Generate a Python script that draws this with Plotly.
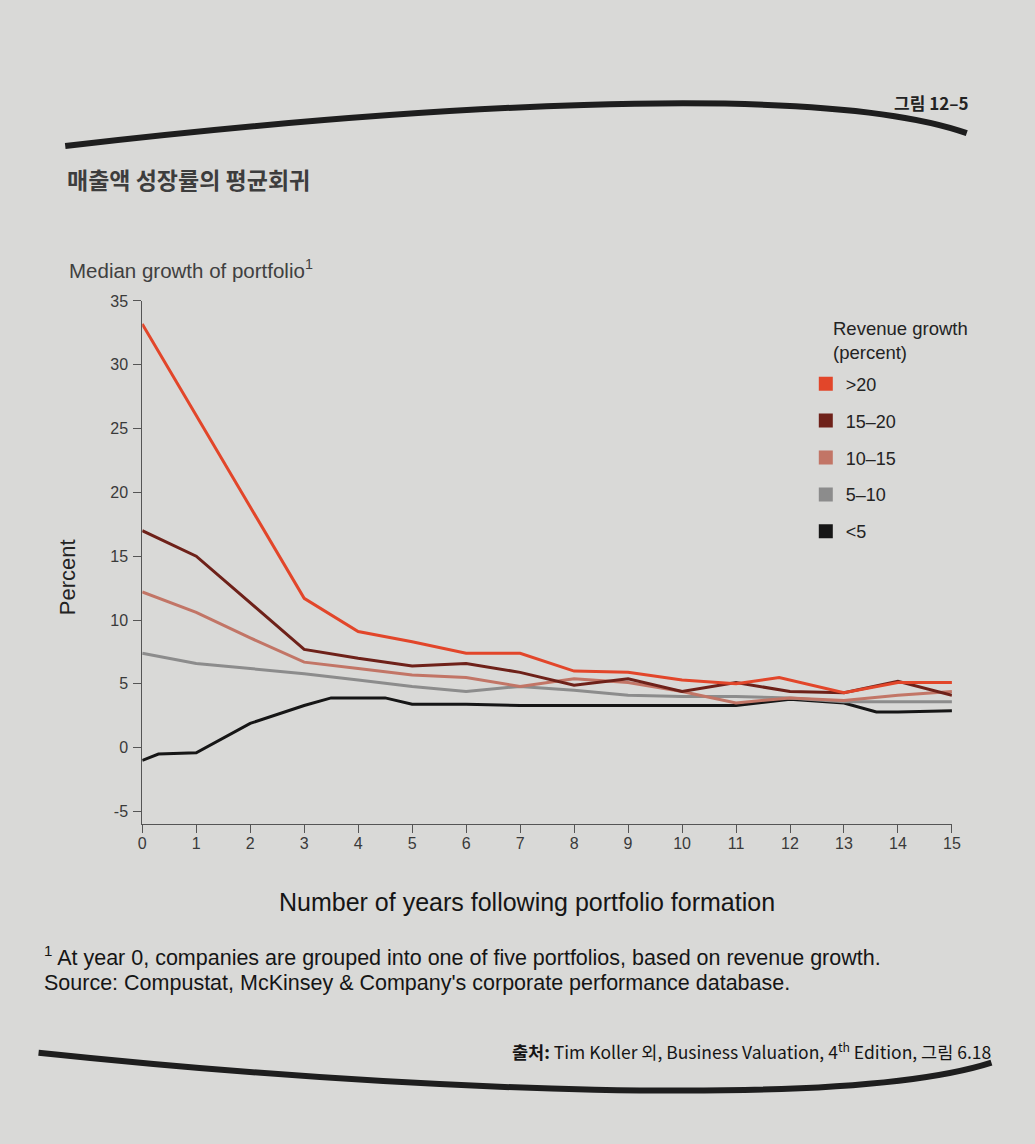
import plotly.graph_objects as go

W, H = 1035, 1144

series_names = [">20", "15–20", "10–15", "5–10", "<5"]
series_colors = ["#e2462a", "#6e2119", "#c27566", "#8c8c8c", "#161616"]

x_gt20 = [0, 3, 4, 5, 6, 7, 8, 9, 10, 11, 11.8, 13, 14, 15]
y_gt20 = [33.2, 11.7, 9.1, 8.3, 7.4, 7.4, 6.0, 5.9, 5.3, 5.0, 5.5, 4.3, 5.1, 5.1]

x_15_20 = [0, 1, 3, 4, 5, 6, 7, 8, 9, 10, 11, 12, 13, 14, 15]
y_15_20 = [17.0, 15.0, 7.7, 7.0, 6.4, 6.6, 5.9, 4.9, 5.4, 4.4, 5.1, 4.4, 4.3, 5.2, 4.1]

x_10_15 = [0, 1, 2, 3, 4, 5, 6, 7, 8, 9, 10, 11, 12, 13, 14, 15]
y_10_15 = [12.2, 10.6, 8.6, 6.7, 6.2, 5.7, 5.5, 4.8, 5.4, 5.1, 4.4, 3.5, 3.9, 3.7, 4.1, 4.4]

x_5_10 = [0, 1, 2, 3, 4, 5, 6, 7, 8, 9, 10, 11, 12, 13, 14, 15]
y_5_10 = [7.4, 6.6, 6.2, 5.8, 5.3, 4.8, 4.4, 4.8, 4.5, 4.1, 4.0, 4.0, 3.9, 3.6, 3.6, 3.6]

x_lt5 = [0, 0.3, 1, 2, 3, 3.5, 4.5, 5, 6, 7, 8, 9, 10, 11, 12, 13, 13.6, 14, 15]
y_lt5 = [-1.0, -0.5, -0.4, 1.9, 3.3, 3.9, 3.9, 3.4, 3.4, 3.3, 3.3, 3.3, 3.3, 3.3, 3.8, 3.5, 2.8, 2.8, 2.9]

xs = [x_gt20, x_15_20, x_10_15, x_5_10, x_lt5]
ys = [y_gt20, y_15_20, y_10_15, y_5_10, y_lt5]

x_ticks = list(range(0, 16))
y_ticks = [-5, 0, 5, 10, 15, 20, 25, 30, 35]
y_tick_text = [str(v) for v in y_ticks]

FONT = "Liberation Sans, Arial, sans-serif"
KFONT = "Noto Sans CJK KR, sans-serif"
TXT = "#232323"
TICK = "#3a3a3a"


def px(x):
    return x / W


def py(y):
    return 1 - y / H


fig = go.Figure()

for name, col, x, y in reversed(list(zip(series_names, series_colors, xs, ys))):
    fig.add_trace(go.Scatter(x=x, y=y, mode="lines", name=name,
                             line=dict(color=col, width=3),
                             showlegend=False, hoverinfo="x+y+name"))

for i, (name, col) in enumerate(zip(series_names, series_colors)):
    fig.add_trace(go.Scatter(x=[None], y=[None], mode="markers", name=name,
                             legendgroup=f"g{i}",
                             marker=dict(symbol="square", size=14, color=col),
                             showlegend=True))

x0d, x1d = px(140), px(960)
y0d, y1d = py(822), py(295)

fig.update_layout(
    width=W, height=H,
    margin=dict(l=0, r=0, t=0, b=0),
    paper_bgcolor="#d9d9d7",
    plot_bgcolor="rgba(0,0,0,0)",
    font=dict(family=FONT, color=TXT),
    xaxis=dict(domain=[x0d, x1d], range=[0, 15], tickvals=x_ticks,
               ticks="outside", ticklen=8, tickcolor="#555", tickwidth=1,
               showline=True, linecolor="#555", linewidth=1,
               showgrid=False, zeroline=False, ticklabelstandoff=-3,
               tickfont=dict(size=16, color=TICK, family=FONT)),
    yaxis=dict(domain=[y0d, y1d], range=[-6, 35], tickvals=y_ticks,
               ticktext=y_tick_text,
               ticks="outside", ticklen=8, tickcolor="#555", tickwidth=1,
               showline=True, linecolor="#555", linewidth=1,
               showgrid=False, zeroline=False, ticklabelstandoff=2,
               tickfont=dict(size=16, color=TICK, family=FONT)),
    legend=dict(x=px(812), y=py(360), xanchor="left", yanchor="top",
                bgcolor="rgba(0,0,0,0)",
                font=dict(size=18, color=TXT, family=FONT),
                tracegroupgap=10.5, itemwidth=30),
)

shapes = [
    dict(type="path", xref="paper", yref="paper",
         path=f"M {px(62)} {py(139)} C {px(400)} {py(100)} {px(820)} {py(72)} {px(975)} {py(126)}",
         line=dict(color="#1e1e1e", width=6)),
    dict(type="path", xref="paper", yref="paper",
         path=f"M {px(35)} {py(1052)} C {px(400)} {py(1090)} {px(850)} {py(1110)} {px(1000)} {py(1062)}",
         line=dict(color="#1e1e1e", width=6)),
]
fig.update_layout(shapes=shapes)


def note(text, x, y, size, family=FONT, color=TXT, xanchor="left", **kw):
    return dict(text=text, x=px(x), y=py(y), xref="paper", yref="paper",
                xanchor=xanchor, yanchor="middle", showarrow=False,
                font=dict(size=size, family=family, color=color), **kw)


ann = [
    note("<b>그림 12–5</b>", 978, 95, 17, KFONT, "#222", xanchor="right"),
    note("<b>매출액 성장률의 평균회귀</b>", 62, 172, 23, KFONT, "#3d3d3d"),
    note("Median growth of portfolio<sup>1</sup>", 64, 263, 20.5, color="#404040"),
    note("Percent", 65, 573, 22, xanchor="center", textangle=-90),
    note("Revenue growth", 838, 323, 18.5, color=TXT),
    note("(percent)", 838, 347, 18.5, color=TXT),
    note("Number of years following portfolio formation", 530, 900, 25,
         color="#151515", xanchor="center"),
    note("<sup>1</sup> At year 0, companies are grouped into one of five portfolios, based on revenue growth.",
         38, 955, 21.5, color="#151515"),
    note("Source: Compustat, McKinsey &amp; Company's corporate performance database.",
         38, 982, 21.5, color="#151515"),
    note("<b>출처:</b> Tim Koller 외, Business Valuation, 4<sup>th</sup> Edition, 그림 6.18",
         1002, 1050, 17.5, KFONT, "#151515", xanchor="right"),
]
fig.update_layout(annotations=ann)

fig.write_html("out.html")
